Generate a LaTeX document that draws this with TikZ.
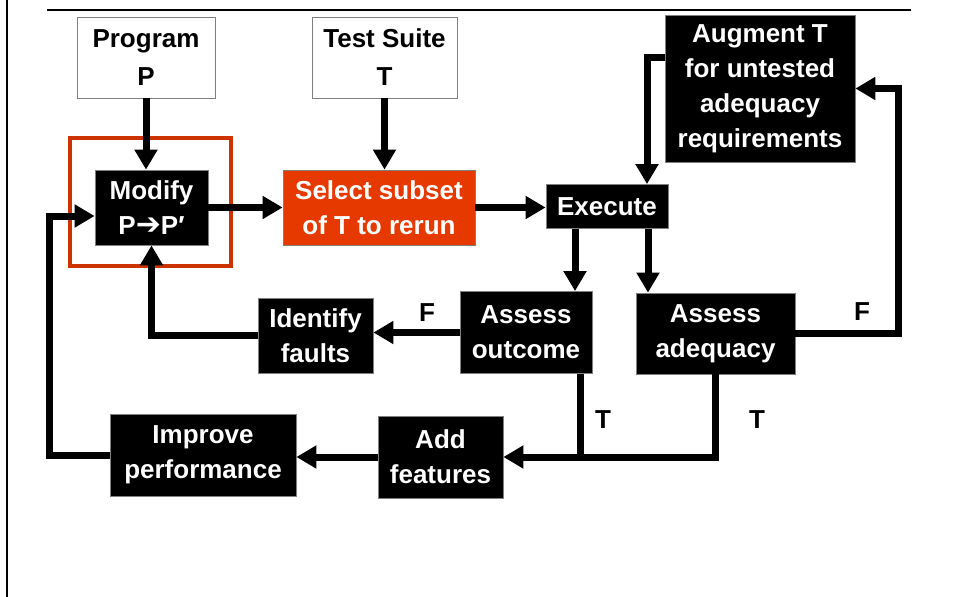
\documentclass[tikz,border=0pt]{standalone}
\usepackage{fontspec}
\setmainfont{Liberation Sans}
\newfontfamily\arrowfont{DejaVu Sans}
\usetikzlibrary{arrows.meta,positioning}
\definecolor{hilite}{RGB}{204,51,0}
\definecolor{pick}{RGB}{230,57,0}
\begin{document}
\begin{tikzpicture}[x=1pt,y=-1pt,
		every node/.style={font=\bfseries\fontsize{26}{35}\selectfont},
		given/.style={draw=gray,fill=white,align=center,inner sep=0pt,line width=0.8pt,font=\bfseries\fontsize{26}{38}\selectfont},
		stage/.style={draw=gray,fill=black,text=white,align=center,inner sep=0pt,line width=0.8pt},
		flow/.style={line width=7pt,-{Triangle[width=22pt,length=20pt]}},
		link/.style={line width=7pt}]
		\useasboundingbox (0,0) rectangle (954,597);
		\draw[line width=2.5pt] (7,0) -- (7,597);
		\draw[line width=2pt] (47,10) -- (911,10);
		
		\node[draw=hilite,line width=4pt,minimum width=161pt,minimum height=128pt] (focus) at (150.5,202) {};
		
		\node[given,minimum width=138pt,minimum height=81pt] (prog) at (146,57.5) {Program\\P};
		\node[given,minimum width=145pt,minimum height=81pt] (suite) at (384.5,57.5) {Test Suite\\T};
		\node[stage,minimum width=113pt,minimum height=75pt] (modify) at (151.5,207.5) {Modify\\P{\arrowfont\fontsize{30}{35}\selectfont ➔}P′};
		\node[stage,fill=pick,minimum width=192pt,minimum height=75pt] (select) at (379,207.5) {Select subset\\of T to rerun};
		\node[stage,minimum width=122pt,minimum height=44pt] (exec) at (607,206.5) {Execute};
		\node[stage,minimum width=190pt,minimum height=147pt] (augment) at (760,88.5) {Augment T\\for untested\\adequacy\\requirements};
		\node[stage,minimum width=132pt,minimum height=82pt] (outcome) at (526,332.5) {Assess\\outcome};
		\node[stage,minimum width=159pt,minimum height=81pt] (adequacy) at (715.5,333.5) {Assess\\adequacy};
		\node[stage,minimum width=115pt,minimum height=75pt] (faults) at (315.5,335.5) {Identify\\faults};
		\node[stage,minimum width=186pt,minimum height=82pt] (improve) at (203,455) {Improve\\performance};
		\node[stage,minimum width=125pt,minimum height=82pt] (features) at (440.5,457) {Add\\features};
		
		\node (fo) at (427,313) {F};
		\node (fa) at (862,312) {F};
		\node (to) at (603,420) {T};
		\node (ta) at (757,420) {T};
		
		\foreach \f/\t in {prog/modify, suite/select}{
			\draw[flow] (\f.south) -- (\f.south |- \t.north);
		}
		\foreach \f/\t in {modify/select, select/exec}{
			\draw[flow] (\f.east) -- (\f.east -| \t.west);
		}
		\draw[flow] ([xshift=-32pt]exec.south) -- ([xshift=-32pt]exec.south |- outcome.north);
		\draw[flow] ([xshift=41pt]exec.south) -- ([xshift=41pt]exec.south |- adequacy.north);
		\draw[flow] ([yshift=31.5pt]augment.west) -| ([xshift=40pt]exec.north);
		\draw[flow] (adequacy.east) -- ++(103,0) |- (augment.east);
		\draw[flow] (outcome.west) -- (outcome.west -| faults.east);
		\draw[flow] (faults.west) -| (modify.south);
		\draw[flow] (adequacy.south) |- (features.east);
		\draw[link] ([xshift=54pt]outcome.south) -- ([xshift=54pt]outcome.south |- features.east);
		\draw[flow] (features.west) -- (features.west -| improve.east);
		\draw[flow] (improve.west) -- ++(-60,0) |- ([yshift=-8.5pt]modify.west);
	\end{tikzpicture}
\end{document}
